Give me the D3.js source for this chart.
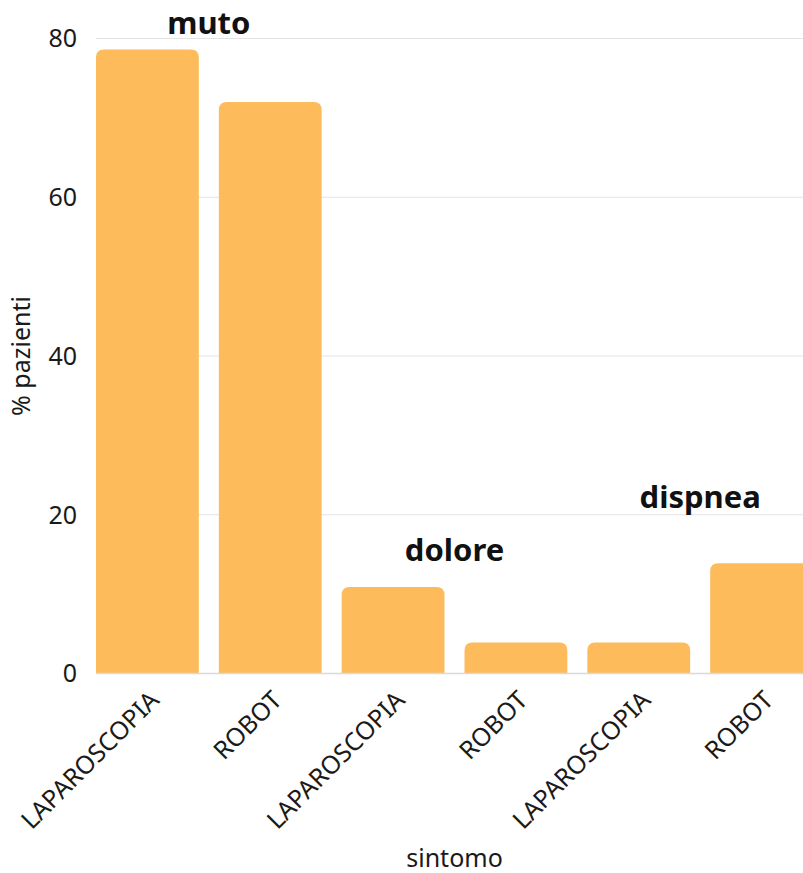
<!DOCTYPE html>
<html>
<head>
<meta charset="utf-8">
<script src="https://cdn.jsdelivr.net/npm/d3@7"></script>
<style>
  body { margin: 0; background: #fff; }
  svg { display: block; font-family: "Noto Sans", "Open Sans", sans-serif; }
</style>
</head>
<body>
<div id="chart"></div>
<script>
// groups (sintomo) and bars inside each group
const groups = ["muto", "dolore", "dispnea"];
const methods = ["LAPAROSCOPIA", "ROBOT"];
const values = [78.6, 72.0, 10.9, 3.9, 3.9, 13.9];   // % pazienti, in group order
const labelY = [80.6, 14.2, 20.9];                   // where the group names sit (data units)
const yTicks = [0, 20, 40, 60, 80];

const width = 803, height = 873;
const margin = { top: 38.5, right: -10, bottom: 199.5, left: 96 };
const innerW = width - margin.left - margin.right;
const innerH = height - margin.top - margin.bottom;

// flatten into bars
const bars = [];
groups.forEach((g, gi) => {
    methods.forEach((m, mi) => {
        bars.push({ key: g + "|" + m, group: g, method: m, value: values[gi * methods.length + mi] });
    });
});

const svg = d3.select("#chart")
    .append("svg")
      .attr("width", width)
      .attr("height", height);

const g = svg.append("g")
    .attr("transform", "translate(" + margin.left + "," + margin.top + ")");

const x = d3.scaleBand()
    .domain(bars.map(d => d.key))
    .range([0, innerW])
    .paddingInner(0.163)
    .paddingOuter(0);

const y = d3.scaleLinear()
    .domain([0, 80])
    .range([innerH, 0]);

// gridlines
g.append("g")
    .selectAll("line")
    .data(yTicks)
    .enter().append("line")
      .attr("x1", 0)
      .attr("x2", width - margin.left)
      .attr("y1", d => y(d))
      .attr("y2", d => y(d))
      .attr("stroke", "#e3e3e3")
      .attr("stroke-width", 1);

// y tick labels
g.append("g")
    .selectAll("text")
    .data(yTicks)
    .enter().append("text")
      .attr("x", -19)
      .attr("y", d => y(d))
      .attr("dy", "0.35em")
      .attr("text-anchor", "end")
      .style("font-size", "25px")
      .style("fill", "#1a1a1a")
      .text(d => d);

// bars with rounded top corners
const r = 8;
function barPath(d) {
    const x0 = x(d.key), x1 = x0 + x.bandwidth();
    const y0 = y(d.value), yb = y(0);
    const rr = Math.min(r, (yb - y0));
    return "M" + x0 + "," + yb +
        "V" + (y0 + rr) +
        "Q" + x0 + "," + y0 + " " + (x0 + rr) + "," + y0 +
        "H" + (x1 - rr) +
        "Q" + x1 + "," + y0 + " " + x1 + "," + (y0 + rr) +
        "V" + yb + "Z";
}

g.append("g")
    .selectAll("path")
    .data(bars)
    .enter().append("path")
      .attr("d", barPath)
      .attr("fill", "#fdbb5b");

// baseline
g.append("line")
    .attr("x1", 0)
    .attr("x2", width - margin.left)
    .attr("y1", y(0))
    .attr("y2", y(0))
    .attr("stroke", "#d9d9d9")
    .attr("stroke-width", 1.5);

// x tick labels, rotated
g.append("g")
    .selectAll("text")
    .data(bars)
    .enter().append("text")
      .attr("transform", d => "translate(" + (x(d.key) + x.bandwidth() / 2 + 7) + "," + (innerH + 22) + ") rotate(-45)")
      .attr("text-anchor", "end")
      .attr("dy", "0.35em")
      .style("font-size", "25px")
      .style("fill", "#1a1a1a")
      .text(d => d.method);

// group names
g.append("g")
    .selectAll("text")
    .data(groups)
    .enter().append("text")
      .attr("x", (d, i) => {
          const first = x(d + "|" + methods[0]);
          const last = x(d + "|" + methods[methods.length - 1]) + x.bandwidth();
          return (first + last) / 2;
      })
      .attr("y", (d, i) => y(labelY[i]))
      .attr("text-anchor", "middle")
      .style("font-size", "31px")
      .style("font-weight", "bold")
      .style("fill", "#111")
      .text(d => d);

// axis titles
svg.append("text")
    .attr("x", margin.left + innerW / 2)
    .attr("y", 866.5)
    .attr("text-anchor", "middle")
    .style("font-size", "25px")
    .style("fill", "#1a1a1a")
    .text("sintomo");

svg.append("text")
    .attr("transform", "translate(30," + (margin.top + innerH / 2) + ") rotate(-90)")
    .attr("text-anchor", "middle")
    .style("font-size", "25px")
    .style("fill", "#1a1a1a")
    .text("% pazienti");
</script>
</body>
</html>
